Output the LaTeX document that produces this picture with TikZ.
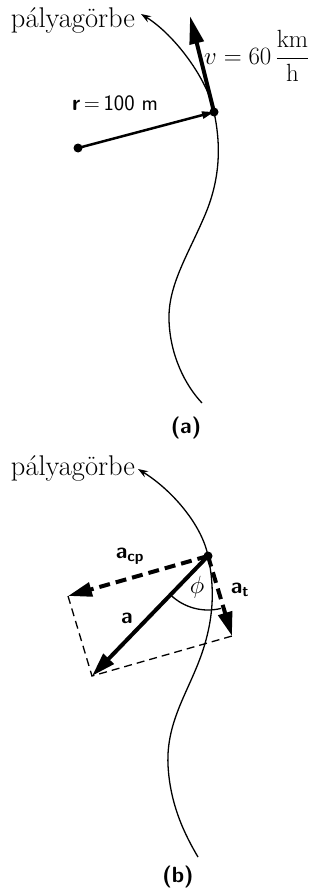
\documentclass[tikz,border=0pt]{standalone}
\usepackage{amsmath}
\usetikzlibrary{arrows.meta}
\begin{document}
\begin{tikzpicture}[x=1pt,y=-1pt,
  trail/.style={line width=1.3pt},
  trailtip/.style={{Stealth[length=10pt,width=7pt]}-},
  dotnode/.style={circle,fill,inner sep=0pt,minimum size=9pt},
  velvec/.style={line width=4pt,-{Triangle[length=28pt,width=14pt]}},
  radvec/.style={line width=2.5pt,-{Triangle[length=12pt,width=7pt]}},
  accvec/.style={line width=4pt,-{Triangle[length=24pt,width=14pt]}},
  dashvec/.style={line width=4pt,dash pattern=on 11pt off 6pt,-{Triangle[length=24pt,width=14pt]}},
  helper/.style={line width=1.3pt,dash pattern=on 8pt off 5pt},
  lbl/.style={font=\fontsize{26}{30}\selectfont,inner sep=0pt},
  tlbl/.style={font=\fontsize{28.5}{32}\selectfont,inner sep=0pt},
  slbl/.style={font=\fontsize{22}{26}\selectfont\sffamily,inner sep=0pt},
  captxt/.style={font=\fontsize{22}{26}\selectfont\sffamily\bfseries,inner sep=0pt}]
\useasboundingbox (0,0) rectangle (323,888);

% ---------- panel (a) ----------
\node[tlbl] (ta) at (73,20) {pályagörbe};
\draw[trail,trailtip] (141,14) .. controls (175,35) and (208,80) .. (214,112)
  .. controls (220,140) and (222,175) .. (205,215)
  .. controls (188,255) and (168,285) .. (169,320)
  .. controls (170,355) and (185,385) .. (202,403);
\coordinate (P) at (214,112);
\node[dotnode] (pdot) at (P) {};
\node[dotnode] (cdot) at (78,148) {};
\coordinate (vtip) at (190,16);
\draw[velvec] (P) -- (vtip);
\draw[radvec] (cdot.center) -- (pdot.center);
\node[lbl,anchor=west] (vl) at (204,56) {$v = 60\,\dfrac{\mathrm{km}}{\mathrm{h}}$};
\node[slbl] (rl) at (115,103) {\textbf{r}\,=\,100 m};
\node[captxt] (capa) at (186,428) {(a)};

% ---------- panel (b) ----------
\node[tlbl] (tb) at (73,468) {pályagörbe};
\draw[trail,trailtip] (138,469) .. controls (172,490) and (202,525) .. (208,556)
  .. controls (213,580) and (216,610) .. (203,650)
  .. controls (190,690) and (166,720) .. (168,765)
  .. controls (170,805) and (185,835) .. (198,857);
\coordinate (Q) at (208,556);
\coordinate (acp) at (68,596);
\coordinate (at) at (232,636);
\coordinate (aa) at (92,676);
\draw[helper] (acp) -- (aa) -- (at);
\draw (Q) ++(133.8:54) arc[start angle=133.8,end angle=76,radius=54] [line width=1.3pt];
\draw[dashvec] (Q) -- (acp);
\draw[dashvec] (Q) -- (at);
\draw[accvec] (Q) -- (aa);
\node[dotnode] (qdot) at (Q) {};
\node[lbl] (phi) at (197,587) {$\phi$};
\node[slbl] (lcp) at (130,556) {\textbf{a}$_{\textbf{\textsf{cp}}}$};
\node[slbl] (la) at (127,618) {\textbf{a}};
\node[slbl] (lt) at (240,590) {\textbf{a}$_{\textbf{\textsf{t}}}$};
\node[captxt] (capb) at (178,877) {(b)};
\end{tikzpicture}
\end{document}
